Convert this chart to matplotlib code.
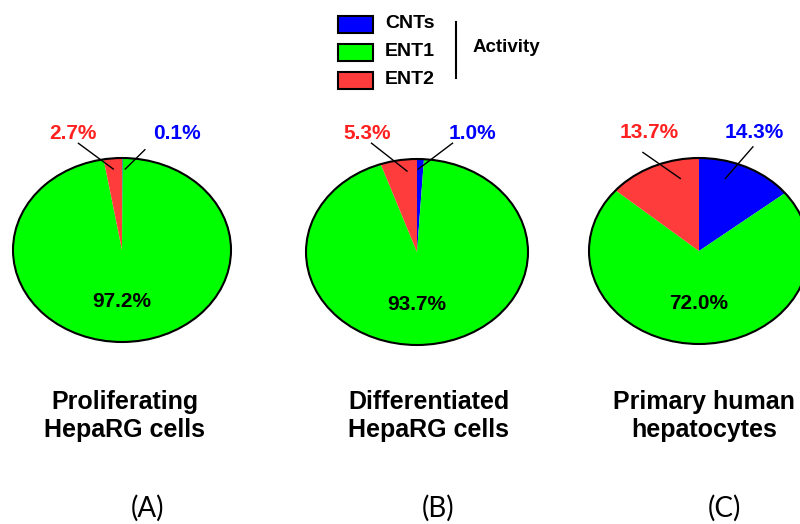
import matplotlib
matplotlib.use('Agg')
import matplotlib.pyplot as plt
from matplotlib.patches import Rectangle, Circle

# data
transporters = ['CNTs', 'ENT1', 'ENT2']
colors = ['#0000ff', '#00ff00', '#ff3c3c']
cell_types = ['Proliferating\nHepaRG cells', 'Differentiated\nHepaRG cells',
              'Primary human\nhepatocytes']
panel_tags = ['(A)', '(B)', '(C)']
proliferating = [0.1, 97.2, 2.7]
differentiated = [1.0, 93.7, 5.3]
primary = [14.3, 72.0, 13.7]
shares = [proliferating, differentiated, primary]

# layout (pixels): pie centre x, centre y, radius x, radius y
pies = [(122, 250, 109, 92), (417, 252, 111, 93), (699, 251, 110, 93)]
# leader lines in pie units: (x0, y0, x1, y1) for the CNTs and ENT2 labels
blue_leaders = [(0.21, 1.09, 0.03, 0.88), (0.32, 1.17, 0.01, 0.89), (0.49, 1.12, 0.24, 0.78)]
red_leaders = [(-0.40, 1.16, -0.08, 0.88), (-0.41, 1.17, -0.09, 0.87), (-0.51, 1.06, -0.17, 0.78)]
title_x = [125, 429, 704]
tag_x = [148, 438, 724]

W, H = 800, 524
fig = plt.figure(figsize=(8, 5.24), dpi=100)

ov = fig.add_axes([0, 0, 1, 1])
ov.set_xlim(0, W)
ov.set_ylim(H, 0)
ov.axis('off')

for i, (cx, cy, rx, ry) in enumerate(pies):
    ax = fig.add_axes([(cx - rx) / W, (H - cy - ry) / H, 2 * rx / W, 2 * ry / H])
    wedges, _ = ax.pie(shares[i], colors=colors, startangle=90, counterclock=False,
                       wedgeprops=dict(linewidth=0))
    for w in wedges:
        w.set_clip_on(False)
    ax.add_patch(Circle((0, 0), 1, fill=False, edgecolor='black', linewidth=1.5, clip_on=False))
    ax.set_aspect('auto')
    ax.set_xlim(-1, 1)
    ax.set_ylim(-1, 1)
    ax.axis('off')

    lab = dict(fontsize=15, fontweight='bold', family='Liberation Sans',
               ha='center', va='center', clip_on=False)
    ax.text(0.50, 1.27, f'{shares[i][0]:.1f}%', color='#0000ff', **lab)
    ax.text(-0.45, 1.27, f'{shares[i][2]:.1f}%', color='#ff2020', **lab)
    ax.text(0, -0.56, f'{shares[i][1]:.1f}%', color='black', **lab)
    for x0, y0, x1, y1 in (blue_leaders[i], red_leaders[i]):
        ax.plot([x0, x1], [y0, y1], color='black', linewidth=1, clip_on=False)

    ov.text(title_x[i], 416, cell_types[i], fontsize=18, fontweight='bold',
            family='Liberation Sans', ha='center', va='center', linespacing=1.2)
    ov.text(tag_x[i], 508, panel_tags[i], fontsize=20, family='Lato',
            ha='center', va='center')

# legend
for k, name in enumerate(transporters):
    y = 24 + 28 * k
    ov.add_patch(Rectangle((338, y - 8.5), 35, 17, facecolor=colors[k],
                           edgecolor='black', linewidth=1.5))
    ov.text(410, y, name, fontsize=14, fontweight='bold', family='Liberation Sans',
            ha='center', va='center')
ov.plot([456, 456], [22, 78], color='black', linewidth=1.5)
ov.text(473, 48, 'Activity', fontsize=13.5, fontweight='bold', family='Liberation Sans',
        ha='left', va='center')

plt.savefig('out.png')
